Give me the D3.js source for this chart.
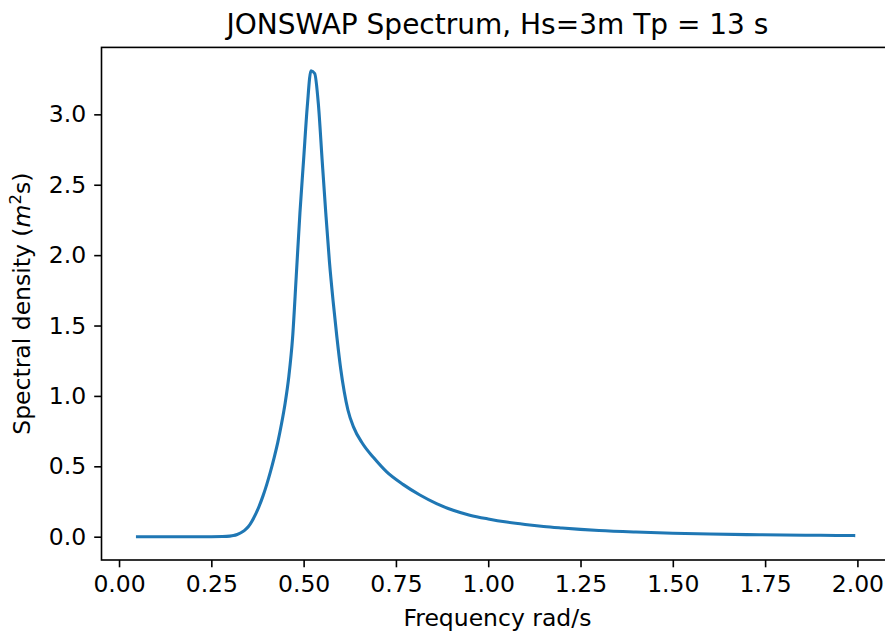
<!DOCTYPE html>
<html>
<head>
<meta charset="utf-8">
<script src="https://cdn.jsdelivr.net/npm/d3@7"></script>
<style>
  html, body { margin: 0; padding: 0; background: #fff; }
  svg { display: block; }
  text { font-family: "DejaVu Sans", sans-serif; fill: #000; }
</style>
</head>
<body>
<svg id="chart" width="885" height="632"></svg>
<script>
// ---- data ----
const frequency = [0.05, 0.10, 0.15, 0.20, 0.25, 0.28, 0.30, 0.31, 0.32, 0.33, 0.34, 0.35, 0.36, 0.37, 0.38, 0.39, 0.40,
  0.41, 0.42, 0.43, 0.44, 0.45, 0.46, 0.47, 0.48, 0.49, 0.50, 0.51, 0.52, 0.53, 0.54, 0.55, 0.56, 0.57, 0.58, 0.59, 0.60,
  0.61, 0.62, 0.635, 0.66, 0.69, 0.725, 0.77, 0.815, 0.86, 0.905, 0.95, 1.00, 1.05, 1.10, 1.15, 1.20, 1.25, 1.30,
  1.40, 1.50, 1.60, 1.70, 1.80, 1.90, 1.99];
const spectralDensity = [0, 0, 0, 0, 0, 0.001, 0.004, 0.008, 0.016, 0.028, 0.045, 0.07, 0.11, 0.16, 0.22, 0.29, 0.37,
  0.46, 0.56, 0.67, 0.80, 0.95, 1.14, 1.41, 1.85, 2.30, 2.68, 3.06, 3.31, 3.29, 3.07, 2.68, 2.30, 1.95, 1.67, 1.42, 1.20,
  1.03, 0.90, 0.78, 0.66, 0.56, 0.46, 0.37, 0.296, 0.235, 0.188, 0.153, 0.126, 0.104, 0.087, 0.073, 0.062, 0.052, 0.044,
  0.033, 0.025, 0.019, 0.015, 0.012, 0.010, 0.008];
const xTicks = [0.00, 0.25, 0.50, 0.75, 1.00, 1.25, 1.50, 1.75, 2.00];
const yTicks = [0.0, 0.5, 1.0, 1.5, 2.0, 2.5, 3.0];
const titleText = "JONSWAP Spectrum, Hs=3m Tp = 13 s";
const xLabelText = "Frequency rad/s";

// ---- layout ----
const W = 885, H = 632;
const plot = { left: 101.5, right: 893.4, top: 47.4, bottom: 560 };
const svg = d3.select("#chart");

const data = frequency.map((f, i) => ({ f, s: spectralDensity[i] }));

// matplotlib-like 5% margins
const xExt = [0.05, 2.0], yExt = d3.extent(spectralDensity);
const xPad = (xExt[1] - xExt[0]) * 0.05, yPad = (yExt[1] - yExt[0]) * 0.05;
const x = d3.scaleLinear().domain([xExt[0] - xPad, xExt[1] + xPad]).range([plot.left, plot.right]);
const y = d3.scaleLinear().domain([yExt[0] - yPad, yExt[1] + yPad]).range([plot.bottom, plot.top]);

const tickFont = 23.5;
const tickLen = 7.3, tickW = 1.6;

// line
const line = d3.line().x(d => x(d.f)).y(d => y(d.s)).curve(d3.curveMonotoneX);
svg.append("path").datum(data)
  .attr("d", line)
  .attr("fill", "none")
  .attr("stroke", "#1f77b4")
  .attr("stroke-width", 3.1)
  .attr("stroke-linejoin", "round")
  .attr("stroke-linecap", "square");

// x axis
const xAxis = d3.axisBottom(x).tickValues(xTicks).tickFormat(d3.format(".2f"))
  .tickSizeInner(tickLen).tickSizeOuter(0).tickPadding(8.5);
const gx = svg.append("g").attr("transform", `translate(0,${plot.bottom})`).call(xAxis);
gx.select(".domain").remove();
gx.selectAll(".tick line").attr("stroke", "#000").attr("stroke-width", tickW);
gx.selectAll(".tick text").attr("font-size", tickFont).attr("font-family", "DejaVu Sans").attr("fill", "#000");

// y axis
const yAxis = d3.axisLeft(y).tickValues(yTicks).tickFormat(d3.format(".1f"))
  .tickSizeInner(tickLen).tickSizeOuter(0).tickPadding(8);
const gy = svg.append("g").attr("transform", `translate(${plot.left},0)`).call(yAxis);
gy.select(".domain").remove();
gy.selectAll(".tick line").attr("stroke", "#000").attr("stroke-width", tickW);
gy.selectAll(".tick text").attr("font-size", tickFont).attr("font-family", "DejaVu Sans").attr("fill", "#000");

// spines
svg.append("rect")
  .attr("x", plot.left).attr("y", plot.top)
  .attr("width", plot.right - plot.left).attr("height", plot.bottom - plot.top)
  .attr("fill", "none").attr("stroke", "#000").attr("stroke-width", 1.6);

// title
svg.append("text")
  .attr("x", (plot.left + plot.right) / 2).attr("y", 34)
  .attr("text-anchor", "middle").attr("font-size", 28)
  .text(titleText);

// x label
svg.append("text")
  .attr("x", (plot.left + plot.right) / 2).attr("y", 626)
  .attr("text-anchor", "middle").attr("font-size", tickFont)
  .text(xLabelText);

// y label
const yl = svg.append("text")
  .attr("transform", `translate(30,${(plot.top + plot.bottom) / 2}) rotate(-90)`)
  .attr("text-anchor", "middle").attr("font-size", tickFont);
yl.append("tspan").text("Spectral density (");
yl.append("tspan").attr("font-style", "italic").text("m");
yl.append("tspan").attr("font-size", tickFont * 0.7).attr("dy", -9).text("2");
yl.append("tspan").attr("dy", 9).text("s)");
</script>
</body>
</html>
